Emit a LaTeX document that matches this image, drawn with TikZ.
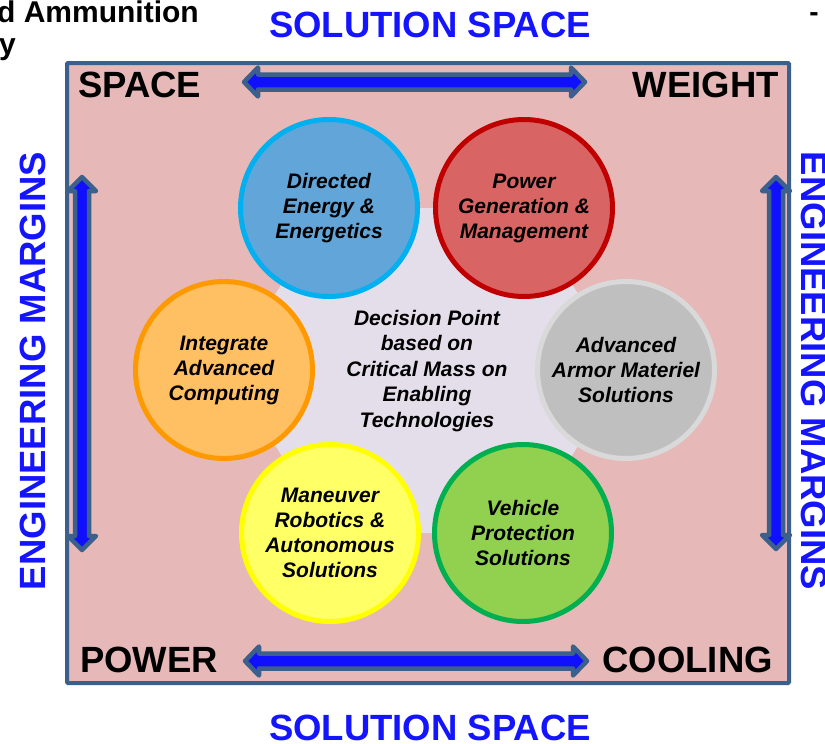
\documentclass[tikz,border=0pt]{standalone}
\usepackage{fontspec}
\setmainfont{Liberation Sans}
\usetikzlibrary{calc}
\definecolor{framec}{RGB}{60,96,140}
\definecolor{pinkbg}{RGB}{230,184,183}
\definecolor{lav}{RGB}{228,222,235}
\definecolor{arrowblue}{RGB}{16,16,255}
\definecolor{txtblue}{RGB}{20,20,255}
\definecolor{deFill}{RGB}{98,165,216}\definecolor{deLine}{RGB}{0,176,240}
\definecolor{pwFill}{RGB}{217,100,100}\definecolor{pwLine}{RGB}{192,0,0}
\definecolor{icFill}{RGB}{255,192,100}\definecolor{icLine}{RGB}{255,153,0}
\definecolor{amFill}{RGB}{191,191,191}\definecolor{amLine}{RGB}{217,217,217}
\definecolor{mrFill}{RGB}{255,255,102}\definecolor{mrLine}{RGB}{255,255,0}
\definecolor{vpFill}{RGB}{146,208,80}\definecolor{vpLine}{RGB}{0,176,80}
\begin{document}
\begin{tikzpicture}[x=1pt,y=-1pt,
  big/.style={font=\fontsize{36.5}{40}\selectfont\bfseries, text=black, inner sep=0},
  bluebig/.style={font=\fontsize{36.5}{40}\selectfont\bfseries, text=txtblue, inner sep=0},
  tech/.style={circle, minimum size=177pt, line width=5pt, font=\fontsize{21}{25}\selectfont\bfseries\itshape, align=center, inner sep=0},
  dblarrow/.style={draw=framec, fill=arrowblue, line width=4.5pt, line join=round}]
\useasboundingbox (0,0) rectangle (825,744);
\fill[white] (0,0) rectangle (825,744);
% partial texts at the top corners
\node[anchor=base west, inner sep=0, font=\fontsize{30}{34}\selectfont\bfseries] (ttl) at (-3,22) {d Ammunition};
\node[anchor=base east, inner sep=0, font=\fontsize{30}{34}\selectfont\bfseries] (ttl2) at (16,54) {y};
\node[anchor=base, inner sep=0, font=\fontsize{28}{34}\selectfont\bfseries] (dash) at (814,21) {-};
% frame
\draw[framec, line width=4pt, fill=pinkbg, rounded corners=1pt] (67,63) rectangle (789,683);
% outer labels
\node[bluebig, anchor=base] (solT) at (430,37) {SOLUTION SPACE};
\node[bluebig, anchor=base] (solB) at (430,740) {SOLUTION SPACE};
\node[bluebig, anchor=base, rotate=90] (engL) at (45,371) {ENGINEERING MARGINS};
\node[bluebig, anchor=base, rotate=-90] (engR) at (801,371) {ENGINEERING MARGINS};
% corner labels
\node[big, anchor=base west] (space) at (78,97) {SPACE};
\node[big, anchor=base east] (weight) at (779,97) {WEIGHT};
\node[big, anchor=base west] (power) at (80,672) {POWER};
\node[big, anchor=base east] (cooling) at (773,672) {COOLING};
% double arrows
\coordinate (tA) at (244,82); \coordinate (tB) at (585,82);
\coordinate (bA) at (245,661); \coordinate (bB) at (587,661);
\coordinate (lA) at (82,177); \coordinate (lB) at (82,550);
\coordinate (rA) at (776,177); \coordinate (rB) at (776,549);
\foreach \a/\b in {tA/tB,bA/bB}{
\draw[dblarrow] (\a) -- ($(\a)+(14,-14.5)$) -- ($(\a)+(14,-7.5)$) -- ($(\b)+(-14,-7.5)$) -- ($(\b)+(-14,-14.5)$) -- (\b) -- ($(\b)+(-14,14.5)$) -- ($(\b)+(-14,7.5)$) -- ($(\a)+(14,7.5)$) -- ($(\a)+(14,14.5)$) -- cycle;}
\foreach \a/\b in {lA/lB,rA/rB}{
\draw[dblarrow] (\a) -- ($(\a)+(-14,14)$) -- ($(\a)+(-7,14)$) -- ($(\b)+(-7,-14)$) -- ($(\b)+(-14,-14)$) -- (\b) -- ($(\b)+(14,-14)$) -- ($(\b)+(7,-14)$) -- ($(\a)+(7,14)$) -- ($(\a)+(14,14)$) -- cycle;}
% hexagon
\coordinate (p1) at (329,208); \coordinate (p2) at (524,208);
\coordinate (p3) at (626,370); \coordinate (p4) at (523,533);
\coordinate (p5) at (330,533); \coordinate (p6) at (228,370);
\fill[lav] (p1) -- (p2) -- (p3) -- (p4) -- (p5) -- (p6) -- cycle;
% technology circles
\node[tech, draw=deLine, fill=deFill] (de) at (p1) {Directed\\Energy \&\\Energetics};
\node[tech, draw=pwLine, fill=pwFill] (pw) at (p2) {Power\\Generation \&\\Management};
\node[tech, draw=amLine, fill=amFill] (am) at (p3) {Advanced\\Armor Materiel\\Solutions};
\node[tech, draw=vpLine, fill=vpFill] (vp) at (p4) {Vehicle\\Protection\\Solutions};
\node[tech, draw=mrLine, fill=mrFill] (mr) at (p5) {Maneuver\\Robotics \&\\Autonomous\\Solutions};
\node[tech, draw=icLine, fill=icFill] (ic) at ($(p6)+(-4,0)$) {Integrate\\Advanced\\Computing};
\node[align=center, inner sep=0, font=\fontsize{21}{25.5}\selectfont\bfseries\itshape] (dp) at (427,371) {Decision Point\\based on\\Critical Mass on\\Enabling\\Technologies};
\end{tikzpicture}
\end{document}
